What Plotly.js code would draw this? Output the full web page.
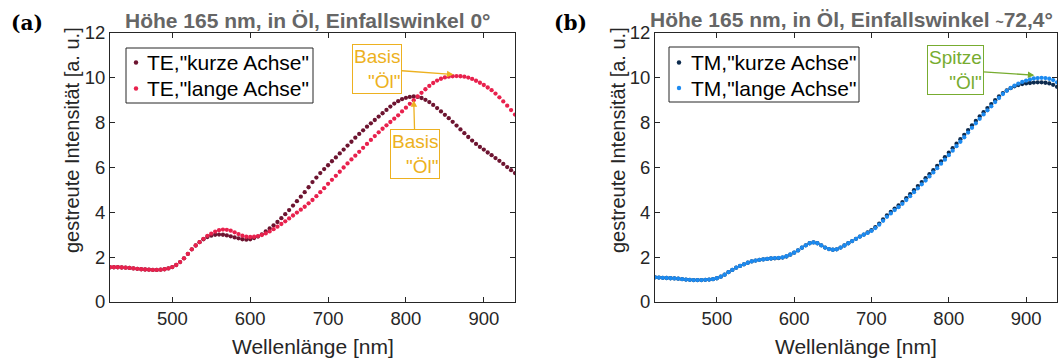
<!DOCTYPE html>
<html>
<head>
<meta charset="utf-8">
<script src="https://cdn.plot.ly/plotly-3.0.1.min.js"></script>
<style>html,body{margin:0;padding:0;background:#fff;}#chart{width:1062px;height:360px;}</style>
</head>
<body>
<div id="chart"></div>
<script>
// Wavelengths [nm]
const wavelength = [420,425,430,435,440,445,450,455,460,465,470,475,480,485,490,495,500,505,510,515,520,525,530,535,540,545,550,555,560,565,570,575,580,585,590,595,600,605,610,615,620,625,630,635,640,645,650,655,660,665,670,675,680,685,690,695,700,705,710,715,720,725,730,735,740,745,750,755,760,765,770,775,780,785,790,795,800,805,810,815,820,825,830,835,840,845,850,855,860,865,870,875,880,885,890,895,900,905,910,915,920,925,930,935,940];

// (a) TE
const teKurze = [1.55,1.55,1.55,1.54,1.53,1.52,1.50,1.48,1.46,1.45,1.44,1.43,1.43,1.44,1.46,1.50,1.56,1.65,1.78,1.95,2.15,2.35,2.52,2.67,2.80,2.90,2.96,3.00,3.01,3.00,2.97,2.93,2.88,2.84,2.80,2.78,2.80,2.85,2.92,3.02,3.15,3.28,3.42,3.57,3.74,3.92,4.10,4.30,4.50,4.70,4.90,5.12,5.35,5.55,5.75,5.93,6.10,6.28,6.45,6.63,6.80,6.98,7.15,7.33,7.50,7.66,7.82,7.97,8.12,8.27,8.42,8.57,8.72,8.85,8.96,9.05,9.11,9.15,9.17,9.15,9.10,9.02,8.92,8.79,8.65,8.50,8.35,8.20,8.04,7.87,7.70,7.53,7.36,7.20,7.05,6.92,6.80,6.67,6.55,6.42,6.30,6.16,6.02,5.88,5.75];
const teLange = [1.55,1.55,1.55,1.54,1.53,1.52,1.50,1.48,1.46,1.45,1.44,1.43,1.43,1.44,1.46,1.50,1.56,1.65,1.78,1.95,2.15,2.35,2.52,2.67,2.82,2.95,3.05,3.14,3.20,3.23,3.22,3.18,3.11,3.03,2.96,2.91,2.90,2.91,2.94,2.99,3.06,3.15,3.25,3.36,3.48,3.60,3.73,3.86,3.99,4.12,4.25,4.40,4.55,4.72,4.90,5.08,5.27,5.45,5.63,5.81,6.00,6.18,6.36,6.53,6.70,6.88,7.05,7.23,7.40,7.57,7.73,7.88,8.03,8.18,8.33,8.50,8.67,8.84,9.00,9.17,9.33,9.49,9.64,9.77,9.88,9.96,10.02,10.05,10.07,10.08,10.07,10.05,10.01,9.95,9.87,9.78,9.68,9.57,9.45,9.30,9.13,8.95,8.76,8.56,8.36];

// (b) TM
const tmKurze = [1.10,1.09,1.08,1.07,1.06,1.05,1.04,1.02,1.00,0.99,0.98,0.98,0.98,0.99,1.00,1.02,1.06,1.13,1.22,1.33,1.43,1.53,1.61,1.68,1.75,1.81,1.85,1.88,1.90,1.92,1.94,1.95,1.96,1.98,2.03,2.11,2.20,2.30,2.42,2.53,2.62,2.66,2.62,2.53,2.43,2.36,2.33,2.35,2.43,2.52,2.62,2.72,2.82,2.92,3.01,3.10,3.20,3.34,3.50,3.68,3.86,4.02,4.17,4.31,4.46,4.63,4.81,4.99,5.17,5.35,5.52,5.70,5.88,6.07,6.27,6.46,6.66,6.86,7.06,7.26,7.46,7.67,7.88,8.08,8.28,8.47,8.65,8.83,9.00,9.17,9.32,9.44,9.54,9.62,9.68,9.72,9.75,9.77,9.79,9.80,9.80,9.78,9.75,9.69,9.60];
const tmLange = [1.10,1.09,1.08,1.07,1.06,1.05,1.04,1.02,1.00,0.99,0.98,0.98,0.98,0.99,1.00,1.02,1.06,1.13,1.22,1.33,1.43,1.53,1.61,1.68,1.75,1.81,1.85,1.88,1.90,1.92,1.94,1.96,1.97,1.99,2.04,2.12,2.20,2.30,2.42,2.53,2.62,2.66,2.62,2.53,2.43,2.36,2.33,2.35,2.43,2.52,2.62,2.72,2.82,2.92,3.00,3.08,3.17,3.30,3.45,3.62,3.80,3.95,4.10,4.23,4.38,4.55,4.72,4.90,5.07,5.25,5.42,5.60,5.78,5.97,6.17,6.35,6.55,6.75,6.95,7.15,7.35,7.56,7.77,7.97,8.17,8.37,8.55,8.73,8.92,9.10,9.28,9.42,9.55,9.65,9.74,9.82,9.88,9.93,9.97,9.99,10.00,9.99,9.96,9.90,9.80];

const seriesNames = ['TE,"kurze Achse"','TE,"lange Achse"','TM,"kurze Achse"','TM,"lange Achse"'];
const seriesColors = ['#6d1430','#e8214d','#0d2b4e','#1c8af0'];
const xTicks = [500,600,700,800,900];
const yTicks = [0,2,4,6,8,10,12];

const INK = '#262626';
const FONT = 'Liberation Sans, Arial, Helvetica, sans-serif';
const W = 1062, H = 360;

function mk(y, i, xa, ya) {
  return {x: wavelength, y: y, name: seriesNames[i], type: 'scatter', mode: 'markers',
    marker: {size: 4.3, color: seriesColors[i]}, xaxis: xa, yaxis: ya, showlegend: false};
}
const traces = [
  mk(teKurze, 0, 'x', 'y'),
  mk(teLange, 1, 'x', 'y'),
  mk(tmKurze, 2, 'x2', 'y2'),
  mk(tmLange, 3, 'x2', 'y2')
];

function xax(dom, anchor) {
  return {domain: dom, anchor: anchor, range: [420, 940], tickvals: xTicks, ticks: 'inside', ticklen: 5,
    tickcolor: INK, showline: true, linecolor: INK, linewidth: 1, mirror: 'ticks', showgrid: false,
    zeroline: false, tickfont: {size: 18.5, color: INK, family: FONT}};
}
function yax(anchor) {
  return {domain: [0.1611, 0.9083], anchor: anchor, range: [0, 12], tickvals: yTicks, ticks: 'inside', ticklen: 5,
    tickcolor: INK, showline: true, linecolor: INK, linewidth: 1, mirror: 'ticks', showgrid: false,
    zeroline: false, tickfont: {size: 18.5, color: INK, family: FONT}};
}

const ORANGE = '#edb120', GREEN = '#77ac30';
function paperText(px, py, text, opts) {
  return Object.assign({xref: 'paper', yref: 'paper', x: px / W, y: 1 - py / H, text: text,
    showarrow: false, xanchor: 'center', yanchor: 'middle', font: {family: FONT, size: 20, color: INK}}, opts || {});
}

const annotations = [
  paperText(27, 23, '<b>(a)</b>', {font: {family: 'DejaVu Serif, serif', size: 20, color: '#000'}}),
  paperText(570, 23, '<b>(b)</b>', {font: {family: 'DejaVu Serif, serif', size: 20, color: '#000'}}),
  paperText(308, 20, '<b>Höhe 165 nm, in Öl, Einfallswinkel 0°</b>', {font: {family: FONT, size: 21, color: '#666666'}}),
  paperText(851, 19, '<b>Höhe 165 nm, in Öl, Einfallswinkel <span style="font-size:14px">~</span>72,4°</b>', {font: {family: FONT, size: 21, color: '#666666'}}),
  paperText(72, 140, 'gestreute Intensität [a. u.]', {textangle: -90, font: {family: FONT, size: 20, color: INK}}),
  paperText(618, 140, 'gestreute Intensität [a. u.]', {textangle: -90, font: {family: FONT, size: 20, color: INK}}),
  paperText(312.5, 346.5, 'Wellenlänge [nm]', {font: {family: FONT, size: 21, color: INK}}),
  paperText(856, 346.5, 'Wellenlänge [nm]', {font: {family: FONT, size: 21, color: INK}}),
  {xref: 'x', yref: 'y', x: 861, y: 10.15, ax: -76, ay: -5.5, text: 'Basis<br>"Öl"', align: 'right',
    showarrow: true, arrowhead: 2, arrowsize: 1, arrowwidth: 1.3, arrowcolor: ORANGE,
    bordercolor: ORANGE, borderwidth: 1, borderpad: 1, font: {family: FONT, size: 19, color: ORANGE}},
  {xref: 'x', yref: 'y', x: 810, y: 9.0, ax: 1.5, ay: 54, text: 'Basis<br>"Öl"', align: 'right',
    showarrow: true, arrowhead: 2, arrowsize: 1, arrowwidth: 1.3, arrowcolor: ORANGE,
    bordercolor: ORANGE, borderwidth: 1, borderpad: 1, font: {family: FONT, size: 19, color: ORANGE}},
  {xref: 'x2', yref: 'y2', x: 910.7, y: 10.12, ax: -79, ay: -5, text: 'Spitze<br>"Öl"', align: 'right',
    showarrow: true, arrowhead: 2, arrowsize: 1, arrowwidth: 1.3, arrowcolor: GREEN,
    bordercolor: GREEN, borderwidth: 1, borderpad: 1, font: {family: FONT, size: 19, color: GREEN}}
];

// Legend boxes (drawn as shapes + texts to match the reference's compact legend)
const shapes = [];
function legendBox(x0, y0, x1, y1, entries) {
  shapes.push({type: 'rect', xref: 'paper', yref: 'paper', x0: x0 / W, x1: x1 / W, y0: 1 - y1 / H, y1: 1 - y0 / H,
    line: {color: INK, width: 1}, fillcolor: '#fff', layer: 'above'});
  entries.forEach(function (e) {
    const r = 2.2;
    shapes.push({type: 'circle', xref: 'paper', yref: 'paper',
      x0: (x0 + 10 - r) / W, x1: (x0 + 10 + r) / W, y0: 1 - (e.y + r) / H, y1: 1 - (e.y - r) / H,
      line: {width: 0}, fillcolor: seriesColors[e.i], layer: 'above'});
    annotations.push(paperText(x0 + 19.5, e.y, seriesNames[e.i],
      {xanchor: 'left', font: {family: FONT, size: 21, color: '#000'}}));
  });
}
legendBox(126, 48, 313, 103, [{i: 0, y: 62.5}, {i: 1, y: 88.5}]);
legendBox(669, 47, 859, 102, [{i: 2, y: 62.5}, {i: 3, y: 88}]);

const layout = {
  width: W, height: H, margin: {l: 0, r: 0, t: 0, b: 0},
  paper_bgcolor: '#fff', plot_bgcolor: '#fff',
  font: {family: FONT, color: INK},
  xaxis: xax([0.1036, 0.4849], 'y'),
  yaxis: yax('x'),
  xaxis2: xax([0.6168, 0.9953], 'y2'),
  yaxis2: yax('x2'),
  showlegend: false,
  shapes: shapes,
  annotations: annotations
};

Plotly.newPlot('chart', traces, layout, {staticPlot: true, displayModeBar: false});
</script>
</body>
</html>
